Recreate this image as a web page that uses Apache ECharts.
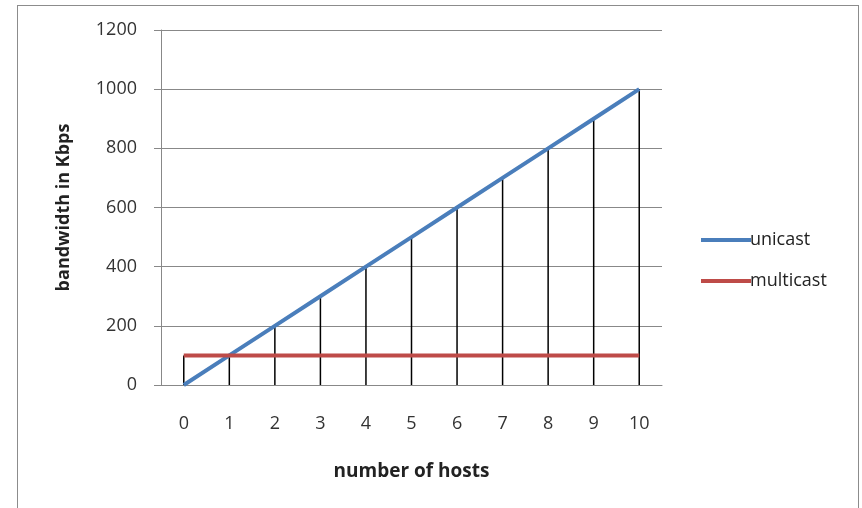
<!DOCTYPE html>
<html>
<head>
	<meta charset="UTF-8">
	<title>bandwidth</title>
	<script src="https://cdn.jsdelivr.net/npm/echarts@6/dist/echarts.min.js"></script>
	<style>
		html, body { margin: 0; padding: 0; background: #fff; }
		#frame {
			position: absolute; left: 17px; top: 5px;
			width: 840px; height: 520px;
			border: 1px solid #8c8c8c;
		}
		#main { position: absolute; left: 0; top: 0; width: 862px; height: 508px; }
	</style>
</head>
<body>
<div id="frame"></div>
<div id="main"></div>
<script>
    var hosts = ['0', '1', '2', '3', '4', '5', '6', '7', '8', '9', '10'];
    var unicast = [0, 100, 200, 300, 400, 500, 600, 700, 800, 900, 1000];
    var multicast = [100, 100, 100, 100, 100, 100, 100, 100, 100, 100, 100];
    var yTicks = [0, 200, 400, 600, 800, 1000, 1200];

    // drop lines go from the higher of the two series down to the axis
    var dropLines = [];
    for (var i = 0; i < hosts.length; i++) {
        dropLines.push(Math.max(unicast[i], multicast[i]));
    }

    var font = '"Open Sans", "DejaVu Sans", sans-serif';
    var myChart = echarts.init(document.getElementById('main'));
    var option = {
        animation: false,
        grid: { left: 161, right: 200, top: 30, bottom: 123 },
        legend: {
            left: 696, top: 226,
            orient: 'vertical',
            itemWidth: 50, itemHeight: 4, itemGap: 23,
            icon: 'rect',
            textStyle: { fontFamily: font, fontSize: 18, color: '#222', padding: [0, 0, 0, -6] },
            data: ['unicast', 'multicast']
        },
        xAxis: {
            type: 'category',
            data: hosts,
            boundaryGap: true,
            name: 'number of hosts',
            nameLocation: 'middle',
            nameGap: 77,
            nameTextStyle: { fontFamily: font, fontSize: 19, fontWeight: 'bold', color: '#222', letterSpacing: -0.5 },
            axisLine: { lineStyle: { color: '#888', width: 1 } },
            axisTick: { show: false },
            axisLabel: { fontFamily: font, fontSize: 18, color: '#333', margin: 30 },
            splitLine: { show: false }
        },
        yAxis: {
            type: 'value',
            min: yTicks[0],
            max: yTicks[yTicks.length - 1],
            interval: 200,
            name: 'bandwidth in Kbps',
            nameLocation: 'middle',
            nameGap: 88,
            nameTextStyle: { fontFamily: font, fontSize: 18, fontWeight: 'bold', color: '#222', letterSpacing: 0.5 },
            axisLine: { show: true, lineStyle: { color: '#888', width: 1 } },
            axisTick: { show: true, length: 7, lineStyle: { color: '#888' } },
            axisLabel: {
                fontFamily: font, fontSize: 18, color: '#333', margin: 24,
                formatter: function (v) { return String(v); }
            },
            splitLine: { lineStyle: { color: '#888', width: 1 } }
        },
        series: [
            {
                name: 'drop',
                type: 'bar',
                barWidth: 1.5,
                z: 1,
                itemStyle: { color: '#000' },
                data: dropLines
            },
            {
                name: 'unicast',
                type: 'line',
                z: 3,
                symbol: 'none',
                color: '#4a7ebb',
                lineStyle: { width: 4, color: '#4a7ebb' },
                data: unicast
            },
            {
                name: 'multicast',
                type: 'line',
                z: 3,
                symbol: 'none',
                color: '#be4b48',
                lineStyle: { width: 4, color: '#be4b48' },
                data: multicast
            }
        ]
    };
    myChart.setOption(option);
</script>
</body>
</html>
